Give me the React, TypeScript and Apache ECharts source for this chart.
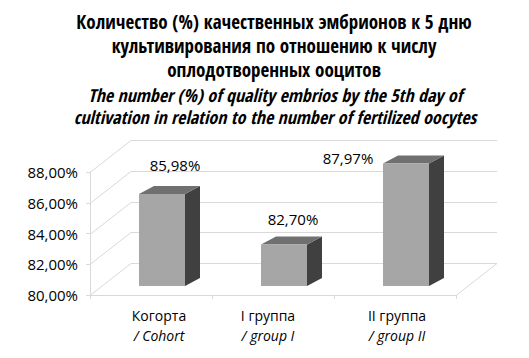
import React, { useEffect, useRef } from 'react';
import * as echarts from 'echarts';

// ---- data ----
const categories = ['Когорта', 'I группа', 'II группа'];
const categoriesEn = ['/ Cohort', '/ group I', '/ group II'];
const values = [85.98, 82.7, 87.97];
const yTicks = [80, 82, 84, 86, 88];
const titleRu = ['Количество (%) качественных эмбрионов к 5 дню', 'культивирования по отношению к числу', 'оплодотворенных ооцитов'];
const titleEn = ['The number (%) of quality embrios by the 5th day of', 'cultivation in relation to the number of fertilized oocytes'];

// ---- layout / style ----
const DEPTH = [41, -32];
const BAR_SHIFT = [11, -9];
const BAR_W = 46;
const BAR_D = [15, -8];
const LABEL_OFFSETS = [[13, -29], [9, -25], [-58, -5]];
const CAT_LABEL_SHIFT = [8, -5, 2];
const GRID_COLOR = '#d9d9d9';
const CONDENSED = "'Noto Sans SemiCondensed', 'Open Sans Condensed', 'Noto Sans Condensed', 'Open Sans'";
const BODY_FONT = "'Open Sans', 'Noto Sans', sans-serif";

const fmt = (v: number) => v.toFixed(2).replace('.', ',') + '%';

export default function App() {
  const ref = useRef<HTMLDivElement>(null);
  useEffect(() => {
    if (!ref.current) return;
    const chart = echarts.init(ref.current, undefined, { renderer: 'svg' });
    const yMin = yTicks[0];
    const yMax = yTicks[yTicks.length - 1];

    const rich: Record<string, any> = {};
    CAT_LABEL_SHIFT.forEach((s, i) => {
      const pad = s >= 0 ? [0, 0, 0, 2 * s] : [0, -2 * s, 0, 0];
      rich['a' + i] = { fontFamily: BODY_FONT, fontSize: 14, lineHeight: 20, color: '#000', padding: pad };
      rich['b' + i] = { fontFamily: BODY_FONT, fontSize: 14, lineHeight: 20, fontStyle: 'italic', color: '#000', padding: pad };
    });

    chart.setOption({
      animation: false,
      backgroundColor: '#ffffff',
      title: [
        {
          text: titleRu.join('\n'),
          left: 274,
          top: 10,
          padding: 0,
          textAlign: 'center',
          textStyle: { fontFamily: CONDENSED, fontWeight: 'bold', fontSize: 19, lineHeight: 24, color: '#000' },
        },
        {
          text: titleEn.join('\n'),
          left: 275,
          top: 84,
          padding: 0,
          textAlign: 'center',
          textStyle: { fontFamily: CONDENSED, fontWeight: 'bold', fontStyle: 'italic', fontSize: 18, lineHeight: 22, color: '#000' },
        },
      ],
      grid: { left: 90, right: 73, top: 172, bottom: 63, containLabel: false },
      xAxis: {
        type: 'category',
        data: categories,
        axisLine: { show: true, lineStyle: { color: GRID_COLOR } },
        axisTick: { show: true, length: 4, lineStyle: { color: GRID_COLOR } },
        axisLabel: {
          margin: 10,
          formatter: (val: string, idx: number) => `{a${idx}|${val}}\n{b${idx}|${categoriesEn[idx]}}`,
          rich,
        },
      },
      yAxis: {
        type: 'value',
        min: yMin,
        max: yMax,
        interval: 2,
        axisLine: { show: true, lineStyle: { color: GRID_COLOR } },
        axisTick: { show: true, length: 4, lineStyle: { color: GRID_COLOR } },
        splitLine: { show: false },
        axisLabel: { formatter: (v: number) => fmt(v), fontFamily: BODY_FONT, fontSize: 15, color: '#000', margin: 12 },
      },
      series: [
        {
          type: 'custom',
          name: 'walls',
          silent: true,
          z: 1,
          data: [[0, yMin]],
          renderItem: (params: any, api: any) => {
            const cs = params.coordSys;
            const x0 = cs.x;
            const x1 = cs.x + cs.width;
            const children: any[] = [];
            yTicks.forEach((t) => {
              const y = Math.round(api.coord([0, t])[1]) + 0.5;
              children.push({
                type: 'polyline',
                shape: { points: [[x0, y], [x0 + DEPTH[0], y + DEPTH[1]], [x1 + DEPTH[0], y + DEPTH[1]]] },
                style: { stroke: GRID_COLOR, fill: 'none', lineWidth: 1 },
              });
            });
            const yb = Math.round(api.coord([0, yMin])[1]) + 0.5;
            children.push({
              type: 'line',
              shape: { x1: x1, y1: yb, x2: x1 + DEPTH[0], y2: yb + DEPTH[1] },
              style: { stroke: GRID_COLOR, lineWidth: 1 },
            });
            return { type: 'group', children };
          },
        },
        {
          type: 'custom',
          name: 'bars',
          z: 3,
          data: values.map((v, i) => [i, v]),
          renderItem: (params: any, api: any) => {
            const idx = api.value(0);
            const v = api.value(1);
            const top = api.coord([idx, v]);
            const base = api.coord([idx, yMin]);
            const cx = top[0] + BAR_SHIFT[0];
            const xl = cx - BAR_W / 2;
            const xr = cx + BAR_W / 2;
            const yt = top[1] + BAR_SHIFT[1];
            const yb = base[1] + BAR_SHIFT[1];
            const off = LABEL_OFFSETS[params.dataIndex];
            return {
              type: 'group',
              children: [
                {
                  type: 'polygon',
                  shape: { points: [[xr, yt], [xr + BAR_D[0], yt + BAR_D[1]], [xr + BAR_D[0], yb + BAR_D[1]], [xr, yb]] },
                  style: { fill: '#404040' },
                },
                {
                  type: 'polygon',
                  shape: { points: [[xl, yt], [xr, yt], [xr + BAR_D[0], yt + BAR_D[1]], [xl + BAR_D[0], yt + BAR_D[1]]] },
                  style: { fill: '#707070' },
                },
                {
                  type: 'rect',
                  shape: { x: xl, y: yt, width: BAR_W, height: yb - yt },
                  style: { fill: '#a6a6a6' },
                },
                {
                  type: 'text',
                  x: cx + off[0],
                  y: yt + off[1],
                  style: {
                    text: fmt(v),
                    fontFamily: BODY_FONT,
                    fontSize: 15,
                    fill: '#000',
                    align: 'center',
                    verticalAlign: 'middle',
                  },
                },
              ],
            };
          },
        },
      ],
    });
    return () => chart.dispose();
  }, []);
  return <div ref={ref} style={{ position: 'absolute', left: 0, top: 0, width: 529, height: 358 }} />;
}
